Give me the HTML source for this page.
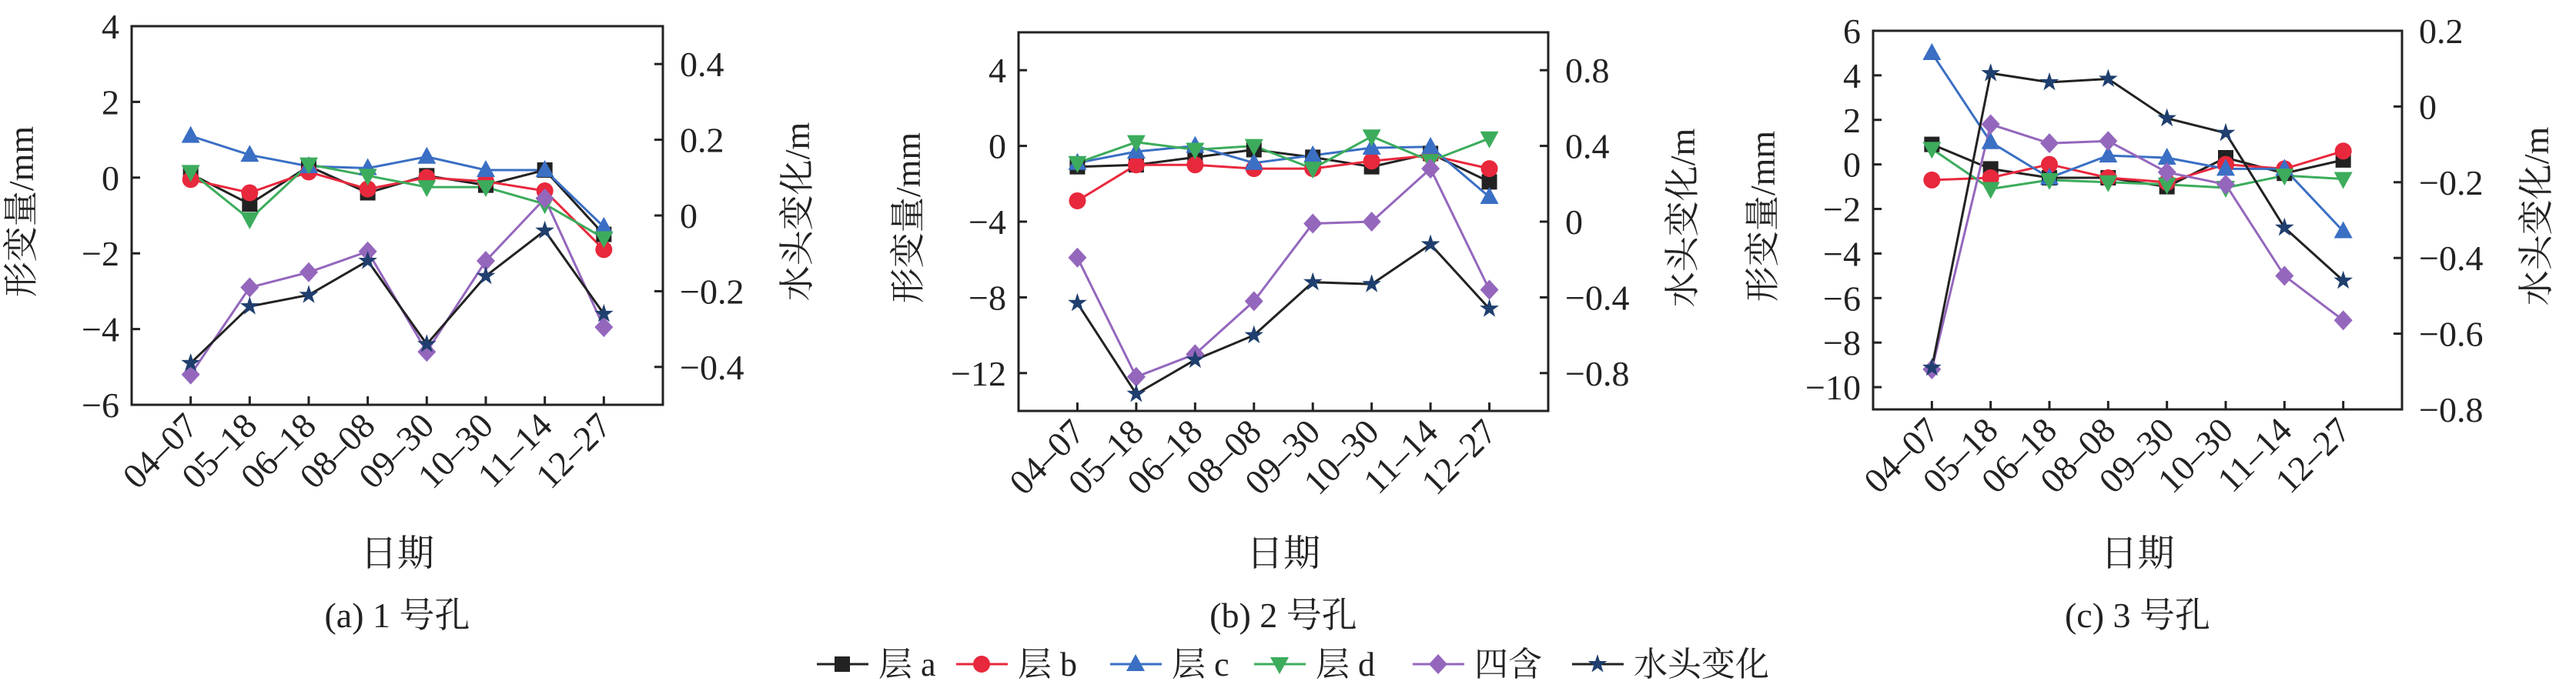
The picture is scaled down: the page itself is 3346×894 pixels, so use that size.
<!DOCTYPE html>
<html><head><meta charset="utf-8"><style>
html,body{margin:0;padding:0;background:#fff;}
svg{display:block;font-family:"Liberation Serif","Noto Serif CJK SC","Noto Sans CJK SC",serif;}
</style></head><body>
<svg id="svg" width="3346" height="894" viewBox="0 0 3346 894" xmlns="http://www.w3.org/2000/svg"></svg>
<script>
const categories = ["04–07","05–18","06–18","08–08","09–30","10–30","11–14","12–27"];
const seriesNames = ["层 a","层 b","层 c","层 d","四含","水头变化"];
// Borehole 1 (left axis mm)
const h1LayerA = [0.1,-0.7,0.3,-0.4,0.05,-0.2,0.2,-1.5];
const h1LayerB = [-0.05,-0.4,0.15,-0.3,0,-0.1,-0.35,-1.9];
const h1LayerC = [1.1,0.6,0.3,0.25,0.55,0.2,0.2,-1.3];
const h1LayerD = [0.15,-1.1,0.35,0.05,-0.25,-0.25,-0.7,-1.6];
const h1Four = [-5.2,-2.9,-2.5,-1.95,-4.6,-2.2,-0.55,-3.95];
const h1Head = [-0.39,-0.24,-0.21,-0.12,-0.34,-0.16,-0.04,-0.26];
// Borehole 2
const h2LayerA = [-1.1,-1.0,-0.6,-0.2,-0.6,-1.1,-0.4,-1.9];
const h2LayerB = [-2.9,-1.0,-1.0,-1.2,-1.2,-0.8,-0.5,-1.2];
const h2LayerC = [-0.9,-0.3,0,-0.9,-0.5,-0.1,-0.05,-2.7];
const h2LayerD = [-0.9,0.2,-0.2,0,-1.2,0.5,-0.8,0.4];
const h2Four = [-5.9,-12.2,-11.0,-8.2,-4.1,-4.0,-1.2,-7.6];
const h2Head = [-0.43,-0.91,-0.73,-0.6,-0.32,-0.33,-0.12,-0.46];
// Borehole 3
const h3LayerA = [0.9,-0.2,-0.6,-0.6,-1.0,0.3,-0.4,0.2];
const h3LayerB = [-0.7,-0.6,0,-0.6,-0.8,0,-0.2,0.6];
const h3LayerC = [5.0,1.0,-0.6,0.4,0.3,-0.2,-0.2,-3.0];
const h3LayerD = [0.7,-1.1,-0.7,-0.8,-0.9,-1.05,-0.5,-0.65];
const h3Four = [-9.2,1.8,0.95,1.05,-0.35,-0.9,-5.0,-7.0];
const h3Head = [-0.69,0.088,0.064,0.073,-0.031,-0.07,-0.32,-0.46];
const leftTicks1 = [4,2,0,-2,-4,-6];
const rightTicks1 = [0.4,0.2,0,-0.2,-0.4];
const leftTicks2 = [4,0,-4,-8,-12];
const rightTicks2 = [0.8,0.4,0,-0.4,-0.8];
const leftTicks3 = [6,4,2,0,-2,-4,-6,-8,-10];
const rightTicks3 = [0.2,0,-0.2,-0.4,-0.6,-0.8];

const NS="http://www.w3.org/2000/svg";
const svg=document.getElementById('svg');
const colors=["#222222","#e8283c","#3a6fc4","#3cac5c","#9467bd","#1f3f6e"];
const lineColors=["#222222","#e8283c","#3a6fc4","#3cac5c","#9467bd","#222222"];
const markerNames=["square","circle","triangle","down-triangle","diamond","star"];
function mk(tag,attrs,parent){const e=document.createElementNS(NS,tag);for(const k in attrs)e.setAttribute(k,attrs[k]);(parent||svg).appendChild(e);return e;}
function fmt(v){return (v<0?"−":"")+String(Math.abs(v));}
function marker(type,x,y,c,parent){
  const s=11;let e;
  if(type==="square")e=mk('rect',{x:x-s+1,y:y-s+1,width:2*s-2,height:2*s-2,fill:c},parent);
  else if(type==="circle")e=mk('circle',{cx:x,cy:y,r:s,fill:c},parent);
  else if(type==="triangle")e=mk('polygon',{points:`${x},${y-s-2} ${x+s+1},${y+s-2} ${x-s-1},${y+s-2}`,fill:c},parent);
  else if(type==="down-triangle")e=mk('polygon',{points:`${x},${y+s+2} ${x+s+1},${y-s+2} ${x-s-1},${y-s+2}`,fill:c},parent);
  else if(type==="diamond")e=mk('polygon',{points:`${x},${y-s-2} ${x+s+1},${y} ${x},${y+s+2} ${x-s-1},${y}`,fill:c},parent);
  else{let p=[];for(let i=0;i<10;i++){const r=i%2?5:13;const a=-Math.PI/2+i*Math.PI/5;p.push((x+r*Math.cos(a)).toFixed(1)+","+(y+r*Math.sin(a)).toFixed(1));}e=mk('polygon',{points:p.join(" "),fill:c},parent);}
  return e;
}
function chart(cfg){
  const g=mk('g',{});
  
  
  const {L,R,T,B,lmin,lmax,rmin,rmax}=cfg;
  const yl=v=>B-(v-lmin)/(lmax-lmin)*(B-T);
  const yr=v=>B-(v-rmin)/(rmax-rmin)*(B-T);
  const step=(R-L)/(categories.length+1);
  const xs=i=>L+(i+1)*step;
  const box=mk('rect',{x:L,y:T,width:R-L,height:B-T,fill:'none',stroke:'#222','stroke-width':3},g);
  
  
  cfg.lt.forEach(v=>{const y=yl(v);mk('line',{x1:L,x2:L+11,y1:y,y2:y,stroke:'#222','stroke-width':3},g);
    const t=mk('text',{x:L-16,y:y+16,'text-anchor':'end','font-size':46,fill:'#222'},g);t.textContent=fmt(v);
    
    });
  cfg.rt.forEach(v=>{const y=yr(v);mk('line',{x1:R-11,x2:R,y1:y,y2:y,stroke:'#222','stroke-width':3},g);
    const t=mk('text',{x:R+22,y:y+16,'text-anchor':'start','font-size':46,fill:'#222'},g);t.textContent=fmt(v);
    
    });
  categories.forEach((c,i)=>{const x=xs(i);mk('line',{x1:x,x2:x,y1:B-11,y2:B,stroke:'#222','stroke-width':3},g);
    const t=mk('text',{x:x+12,y:B+30,'text-anchor':'end','font-size':46,fill:'#222',transform:`rotate(-45 ${x+12} ${B+30})`},g);t.textContent=c;
    
    });
  const yt=mk('text',{x:0,y:0,'text-anchor':'middle','font-size':46,fill:'#222',transform:`translate(${L-128},${(T+B)/2-5}) rotate(-90)`},g);
  yt.textContent="形变量/mm";
  
  
  const rt=mk('text',{x:0,y:0,'text-anchor':'middle','font-size':46,fill:'#222',transform:`translate(${R+190},${(T+B)/2-5}) rotate(-90)`},g);
  rt.textContent="水头变化/m";
  
  
  const xt=mk('text',{x:(L+R)/2,y:735,'text-anchor':'middle','font-size':48,fill:'#222'},g);
  xt.textContent="日期";
  
  
  const cap=mk('text',{x:(L+R)/2,y:815,'text-anchor':'middle','font-size':46,fill:'#222'},g);
  cap.textContent=cfg.caption;
  
  
  cfg.series.forEach((vals,si)=>{
    const yf=si===5?yr:yl;
    const pts=vals.map((v,i)=>xs(i).toFixed(1)+","+yf(v).toFixed(1)).join(" ");
    const pl=mk('polyline',{points:pts,fill:'none',stroke:lineColors[si],'stroke-width':3},g);
    
    
  });
  cfg.series.forEach((vals,si)=>{
    const yf=si===5?yr:yl;
    vals.forEach((v,i)=>{const m=marker(markerNames[si],xs(i),yf(v),colors[si],g);
      
      });
  });
}
chart({name:'chart-borehole-1',L:171,R:861,T:34,B:526,lmin:-6,lmax:4,rmin:-0.5,rmax:0.5,lt:leftTicks1,rt:rightTicks1,caption:"(a) 1 号孔",
  series:[h1LayerA,h1LayerB,h1LayerC,h1LayerD,h1Four,h1Head]});
chart({name:'chart-borehole-2',L:1323,R:2011,T:42,B:534,lmin:-14,lmax:6,rmin:-1,rmax:1,lt:leftTicks2,rt:rightTicks2,caption:"(b) 2 号孔",
  series:[h2LayerA,h2LayerB,h2LayerC,h2LayerD,h2Four,h2Head]});
chart({name:'chart-borehole-3',L:2433,R:3120,T:40,B:532,lmin:-11,lmax:6,rmin:-0.8,rmax:0.2,lt:leftTicks3,rt:rightTicks3,caption:"(c) 3 号孔",
  series:[h3LayerA,h3LayerB,h3LayerC,h3LayerD,h3Four,h3Head]});
// legend
const legX=[1061,1242,1442,1629,1835,2042];
const lg=mk('g',{});


seriesNames.forEach((n,i)=>{
  const x=legX[i],y=863;
  const e=mk('g',{},lg);
  
  
  mk('line',{x1:x,x2:x+67,y1:y,y2:y,stroke:lineColors[i],'stroke-width':3},e);
  marker(markerNames[i],x+33,y,colors[i],e);
  const t=mk('text',{x:x+80,y:y+15,'font-size':44,fill:'#222'},e);t.textContent=n;
});
</script>
</body></html>
